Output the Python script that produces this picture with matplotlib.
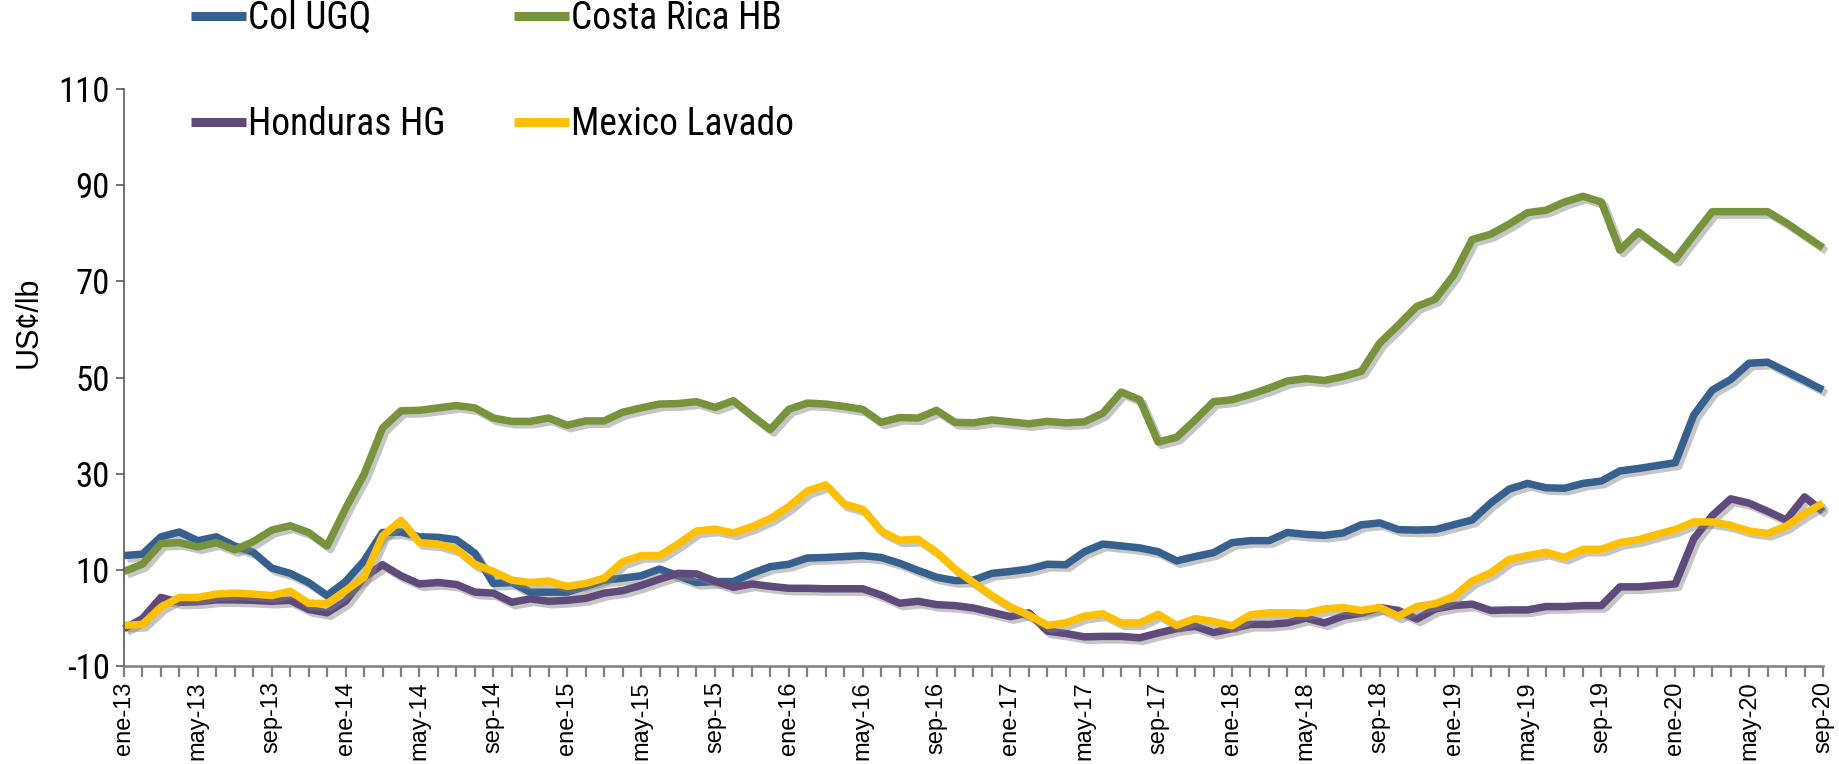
import matplotlib
matplotlib.use("Agg")
import matplotlib.pyplot as plt
import matplotlib.patheffects as pe
from matplotlib import font_manager as fm
import numpy as np

# ---------------- data ----------------
month_names = ["ene", "feb", "mar", "abr", "may", "jun", "jul", "ago", "sep", "oct", "nov", "dic"]
years = list(range(13, 21))
dates = [f"{m}-{y}" for y in years for m in month_names][:93]   # ene-13 .. sep-20

col_ugq = [13.0, 13.3, 16.9, 17.9, 16.1, 16.9, 15.0, 13.7, 10.4, 9.3, 7.4, 4.7,
           7.6, 11.9, 17.8, 17.9, 16.9, 16.8, 16.3, 13.5, 7.2, 7.4, 5.4, 5.4,
           5.4, 6.6, 7.9, 8.3, 8.8, 10.2, 8.8, 7.4, 7.6, 7.6, 9.3, 10.7,
           11.2, 12.5, 12.6, 12.8, 13.0, 12.6, 11.4, 9.9, 8.5, 7.8, 7.9, 9.3,
           9.7, 10.2, 11.2, 11.1, 13.8, 15.4, 15.0, 14.6, 13.8, 11.9, 12.8, 13.6,
           15.7, 16.1, 16.1, 17.8, 17.4, 17.2, 17.7, 19.4, 19.8, 18.4, 18.3, 18.4,
           19.4, 20.4, 23.9, 26.8, 28.0, 27.1, 27.0, 28.0, 28.5, 30.6, 31.1, 31.7,
           32.3, 42.2, 47.4, 49.6, 53.0, 53.2, 51.3, 49.4, 47.4]

costa_rica_hb = [9.7, 11.2, 15.5, 15.7, 14.8, 15.7, 14.2, 15.9, 18.3, 19.2, 17.8, 15.0,
                 22.8, 29.9, 39.5, 43.1, 43.2, 43.7, 44.2, 43.7, 41.6, 40.9, 40.9, 41.6,
                 40.1, 41.0, 41.0, 42.8, 43.7, 44.5, 44.6, 45.0, 43.8, 45.2, 42.1, 39.2,
                 43.4, 44.7, 44.5, 44.0, 43.4, 40.7, 41.7, 41.6, 43.2, 40.7, 40.6, 41.2,
                 40.8, 40.4, 40.9, 40.6, 40.8, 42.6, 47.0, 45.4, 36.6, 37.6, 41.2, 45.0,
                 45.4, 46.5, 47.8, 49.3, 49.8, 49.4, 50.2, 51.3, 57.2, 60.9, 64.8, 66.3,
                 71.3, 78.7, 79.8, 81.9, 84.3, 84.8, 86.5, 87.7, 86.5, 76.5, 80.3, 77.4,
                 74.6, 79.6, 84.5, 84.5, 84.5, 84.5, 82.2, 79.6, 77.0]

honduras_hg = [-2.2, -0.1, 4.3, 3.3, 3.4, 3.8, 3.8, 3.7, 3.5, 3.7, 1.8, 1.1,
               3.5, 8.5, 11.1, 8.8, 7.1, 7.4, 7.0, 5.4, 5.2, 3.3, 4.0, 3.5,
               3.7, 4.1, 5.2, 5.7, 6.8, 8.1, 9.3, 9.2, 7.7, 6.4, 7.1, 6.6,
               6.2, 6.2, 6.1, 6.1, 6.1, 4.8, 3.1, 3.5, 2.8, 2.6, 2.1, 1.2,
               0.3, 1.1, -2.7, -3.2, -3.9, -3.8, -3.8, -4.1, -3.1, -2.2, -1.7, -3.0,
               -2.2, -1.3, -1.3, -1.0, 0.0, -1.0, 0.4, 1.0, 2.2, 1.6, -0.2, 1.9,
               2.6, 2.9, 1.6, 1.7, 1.7, 2.4, 2.4, 2.6, 2.6, 6.5, 6.5, 6.8,
               7.1, 16.5, 21.3, 24.8, 23.9, 22.2, 20.4, 25.2, 22.2]

mexico_lavado = [-1.5, -1.3, 2.3, 4.3, 4.3, 5.0, 5.2, 5.0, 4.7, 5.6, 3.1, 3.0,
                 5.7, 8.5, 17.1, 20.3, 15.7, 15.4, 14.3, 11.2, 9.7, 7.9, 7.4, 7.7,
                 6.6, 7.2, 8.3, 11.7, 13.0, 13.0, 15.4, 18.1, 18.5, 17.7, 19.0, 20.7,
                 23.2, 26.4, 27.7, 23.7, 22.6, 18.1, 16.2, 16.4, 13.7, 10.2, 7.4, 4.7,
                 2.3, 0.6, -1.5, -1.0, 0.4, 0.9, -1.0, -1.0, 0.8, -1.5, -0.1, -0.7,
                 -1.6, 0.7, 1.1, 1.1, 1.0, 1.9, 2.2, 1.6, 2.2, 0.4, 2.4, 3.0,
                 4.5, 7.7, 9.4, 12.2, 13.0, 13.7, 12.6, 14.3, 14.3, 15.7, 16.3, 17.4,
                 18.4, 20.0, 20.0, 19.3, 18.1, 17.6, 19.1, 21.7, 23.9]

series_names = ["Col UGQ", "Costa Rica HB", "Honduras HG", "Mexico Lavado"]
series_colors = ["#36618f", "#77933c", "#604a7b", "#ffc000"]
y_ticks = [-10, 10, 30, 50, 70, 90, 110]
y_label = "US¢/lb"


# ---------------- fonts ----------------
def _is_regular(e):
    w = e.weight
    ok_w = (w in ("normal", "regular", "book")) or (isinstance(w, (int, float)) and 350 <= w <= 450)
    return ok_w and e.style == "normal"


def pick_narrow():
    prefs = ["Liberation Sans Narrow", "Arial Narrow", "Roboto Condensed",
             "Open Sans Condensed", "Noto Sans Condensed", "DejaVu Sans Condensed"]
    entries = fm.fontManager.ttflist
    for p in prefs:
        for e in entries:
            if e.name == p and _is_regular(e):
                return e.fname
    for e in entries:
        if ("Narrow" in e.name or "Condensed" in e.name or "condensed" in str(e.stretch)) \
                and _is_regular(e) and "Mono" not in e.name and "Serif" not in e.name:
            return e.fname
    return None


narrow_path = pick_narrow()


def narrow_fp(size):
    if narrow_path:
        return fm.FontProperties(fname=narrow_path, size=size)
    return fm.FontProperties(family=["Liberation Sans", "DejaVu Sans"], size=size * 0.88)


regular = ["Liberation Sans", "DejaVu Sans"]

# ---------------- plot ----------------
fig = plt.figure(figsize=(18.39, 7.64), dpi=100)
ax = fig.add_axes([0.0674, 0.128, 0.9239, 0.7555])

x = np.arange(len(dates))
shadow = [pe.SimpleLineShadow(offset=(2.5, -2.5), shadow_color="#7f7f7f", alpha=0.45), pe.Normal()]
handles = []
for vals, name, col in zip([col_ugq, costa_rica_hb, honduras_hg, mexico_lavado], series_names, series_colors):
    ln, = ax.plot(x, vals, color=col, lw=5.4, label=name, solid_joinstyle="round",
                  solid_capstyle="butt", path_effects=shadow, clip_on=False)
    handles.append(ln)

ax.set_xlim(0, len(dates) - 1)
ax.set_ylim(-10, 110)
ax.set_yticks(y_ticks)
ax.set_yticklabels([str(t) for t in y_ticks])
for lbl in ax.get_yticklabels():
    lbl.set_fontproperties(narrow_fp(25))

ax.set_xticks(x[::4])
ax.set_xticklabels(dates[::4], rotation=90, fontfamily=regular, fontsize=17)
ax.set_xticks(x, minor=True)
ax.tick_params(axis="x", which="both", direction="out", length=8, width=1.6, color="#7f7f7f", pad=3)
ax.tick_params(axis="y", direction="out", length=6, width=1.2, color="#595959", pad=4)

for s in ["top", "right"]:
    ax.spines[s].set_visible(False)
ax.spines["left"].set_color("#595959")
ax.spines["left"].set_linewidth(1.2)
ax.spines["bottom"].set_color("#7f7f7f")
ax.spines["bottom"].set_linewidth(1.8)

ax.set_ylabel(y_label, fontfamily=regular, fontsize=22)
ax.yaxis.set_label_coords(-0.047, 0.596)

# legend filled row by row: (Col UGQ, Costa Rica HB) / (Honduras HG, Mexico Lavado)
order = [0, 2, 1, 3]
leg = fig.legend(handles=[handles[i] for i in order], labels=[series_names[i] for i in order],
                 ncol=2, loc="upper left", bbox_to_anchor=(0.104, 1.0), frameon=False,
                 prop=narrow_fp(27),
                 handlelength=1.45, handletextpad=0.05, columnspacing=1.85,
                 labelspacing=1.85, borderpad=0.0, borderaxespad=0.0)
for h in leg.get_lines():
    h.set_linewidth(6.5)
    h.set_path_effects([])

fig.savefig("out.png", dpi=100)
